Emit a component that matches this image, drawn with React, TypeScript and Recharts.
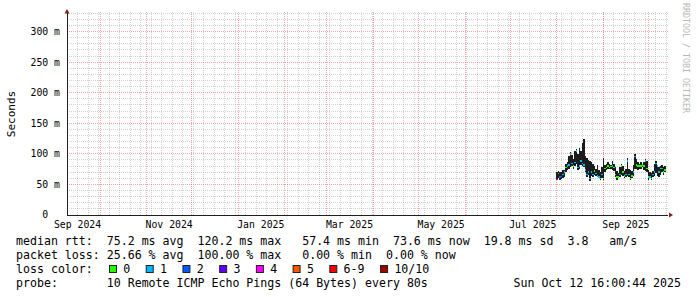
import {
  ComposedChart,
  Bar,
  Scatter,
  XAxis,
  YAxis,
  CartesianGrid,
  ReferenceDot,
} from 'recharts'

const DAY = 86400000

// one point per day, starting Aug 1 2025
const firstDay = Date.UTC(2025, 7, 1)
const smokeLow = [
  58, 60, 58, 59, 60, 62, 70, 74, 76, 78, 80, 76, 80, 84, 74, 76, 82, 80, 78, 70,
  62, 66, 56, 64, 62, 66, 64, 62, 60, 57, 60, 58, 70, 74, 76, 75, 76, 74, 72, 62,
  58, 60, 62, 66, 64, 60, 62, 63, 62, 58, 60, 64, 76, 76, 74, 76, 76, 78, 74, 72,
  70, 58, 60, 58, 62, 64, 68, 64, 62, 66, 70, 66, 70,
]
const smokeHigh = [
  70, 72, 70, 71, 73, 74, 84, 86, 96, 103, 98, 92, 104, 108, 100, 110, 104, 118, 124, 96,
  94, 90, 88, 86, 84, 80, 76, 82, 74, 70, 78, 94, 82, 84, 86, 83, 82, 88, 84, 78,
  72, 68, 78, 84, 80, 72, 76, 93, 76, 74, 72, 82, 99, 92, 86, 84, 86, 84, 86, 92,
  88, 74, 70, 68, 72, 84, 88, 82, 78, 80, 82, 78, 80,
]
const median = [
  58, 68, 62, 63, 66, 70, 78, 80, 82, 100, 84, 80, 86, 105, 78, 80, 88, 84, 82, 74,
  66, 70, 60, 70, 66, 72, 68, 64, 62, 60, 66, 60, 76, 78, 80, 78, 79, 80, 78, 66,
  62, 62, 66, 80, 70, 64, 66, 88, 66, 60, 64, 70, 96, 82, 80, 80, 80, 82, 80, 88,
  76, 62, 62, 60, 66, 70, 84, 80, 70, 76, 76, 70, 74,
]
const lostPings = [
  6, 0, 2, 2, 1, 1, 0, 1, 1, 1, 1, 0, 1, 1, 1, 1, 1, 1, 1, 1,
  1, 1, 1, 1, 1, 0, 1, 1, 1, 0, 1, 0, 0, 0, 0, 0, 0, 1, 0, 0,
  0, 0, 1, 0, 0, 0, 1, 1, 1, 0, 0, 1, 1, 0, 0, 0, 0, 0, 0, 1,
  0, 0, 1, 0, 1, 1, 1, 1, 1, 0, 1, 0, 0,
]

const lossLabels = ['0', '1', '2', '3', '4', '5', '6-9', '10/10']
const lossColors = ['#26ff00', '#00b8ff', '#0059ff', '#5e00ff', '#ff00ff', '#ff5500', '#ff0000', '#a10000']

const monthNames = ['Jan', 'Feb', 'Mar', 'Apr', 'May', 'Jun', 'Jul', 'Aug', 'Sep', 'Oct', 'Nov', 'Dec']
// month labels sit in the middle of their month
const labelMonths = [
  [2024, 8], [2024, 10], [2025, 0], [2025, 2], [2025, 4], [2025, 6], [2025, 8],
]
const yTicks = [0, 50, 100, 150, 200, 250, 300]

const legendRows = [
  'median rtt:  75.2 ms avg  120.2 ms max   57.4 ms min  73.6 ms now  19.8 ms sd  3.8   am/s',
  'packet loss: 25.66 % avg  100.00 % max   0.00 % min  0.00 % now',
]
const probeText = 'probe:       10 Remote ICMP Echo Pings (64 Bytes) every 80s'
const stampText = 'Sun Oct 12 16:00:44 2025'

const W = 697
const H = 297
const PLOT_LEFT = 67
const PLOT_RIGHT = 668
const PLOT_TOP = 12
const PLOT_BOTTOM = 215
const X_AXIS_H = 20
const Y_MAX = 332
const CHAR_W = 7.02
const MONO = '"DejaVu Sans Mono", monospace'

const axisStart = Date.UTC(2024, 8, 9)
const axisEnd = axisStart + 400 * DAY

const lossIndex = (n: number) => (n >= 10 ? 7 : n >= 6 ? 6 : n)

const rows = median.map((m, i) => ({
  t: firstDay + i * DAY,
  low: smokeLow[i],
  high: smokeHigh[i],
  median: m,
  loss: lostPings[i],
}))

const labelTicks = labelMonths.map(([y, m]) => Date.UTC(y, m, 16))

// grid: weekly minor / monthly major, 10 ms minor / 50 ms major
const majorX: number[] = []
for (let y = 2024, m = 9; y < 2025 || m <= 9; m++) {
  if (m > 11) { m = 0; y++ }
  majorX.push(Date.UTC(y, m, 1))
}
const minorX: number[] = []
for (let t = axisStart + 7 * DAY; t < axisEnd; t += 7 * DAY) minorX.push(t)
const majorY = [50, 100, 150, 200, 250, 300]
const minorY: number[] = []
for (let v = 10; v <= 330; v += 10) if (v % 50 !== 0) minorY.push(v)

const XTick = (p: any) => {
  const d = new Date(p.payload.value)
  return (
    <text x={p.x} y={PLOT_BOTTOM + 12.5} textAnchor="middle" fontFamily={MONO} fontSize={9.8} fill="#000">
      {`${monthNames[d.getUTCMonth()]} ${d.getUTCFullYear()}`}
    </text>
  )
}

const YTick = (p: any) => {
  const v = p.payload.value
  return (
    <text x={PLOT_LEFT - 7} y={p.y + 3.4} textAnchor="end" fontFamily={MONO} fontSize={9.8} fill="#000">
      {v === 0 ? '0\u00a0\u00a0' : `${v} m`}
    </text>
  )
}

const MedianMark = (p: any) => {
  if (p.cx == null || p.cy == null) return null
  const c = lossColors[lossIndex(p.payload.loss)]
  return <rect x={p.cx - 0.75} y={p.cy - 0.75} width={1.5} height={1.5} fill={c} shapeRendering="crispEdges" />
}

const UpArrow = (p: any) => (
  <polygon points={`${p.cx - 2.5},${p.cy + 1.5} ${p.cx + 2.5},${p.cy + 1.5} ${p.cx},${p.cy - 3}`} fill="#7f1f1f" />
)
const RightArrow = (p: any) => (
  <polygon points={`${p.cx + 1},${p.cy - 2.5} ${p.cx + 1},${p.cy + 2.5} ${p.cx + 5},${p.cy}`} fill="#7f1f1f" />
)

export default function App() {
  // legend swatches laid out like rrdtool: box, label, gap
  let bx = 109
  const swatches = lossLabels.map((label, i) => {
    const item = { x: bx, label, color: lossColors[i] }
    bx = bx + 14.3 + label.length * CHAR_W + 15.4
    return item
  })

  return (
    <div style={{ position: 'absolute', left: 0, top: 0, width: W, height: H, background: '#fff' }}>
      <style>{`
        .recharts-cartesian-grid line,
        .recharts-cartesian-axis-line,
        .recharts-bar-rectangle path { shape-rendering: crispEdges; }
      `}</style>
      <ComposedChart
        width={W}
        height={H}
        data={rows}
        margin={{ top: PLOT_TOP, right: W - PLOT_RIGHT, bottom: H - PLOT_BOTTOM - X_AXIS_H, left: 0 }}
      >
        <CartesianGrid
          horizontalValues={minorY}
          verticalValues={minorX}
          stroke="rgba(143,143,143,0.4)"
          strokeDasharray="1 1"
        />
        <CartesianGrid
          horizontalValues={majorY}
          verticalValues={majorX}
          stroke="rgba(222,80,80,0.5)"
          strokeDasharray="1 1"
        />
        <XAxis
          type="number"
          dataKey="t"
          domain={[axisStart, axisEnd]}
          allowDataOverflow
          ticks={labelTicks}
          interval={0}
          tick={XTick}
          tickLine={false}
          axisLine={{ stroke: '#1f1f1f' }}
          height={X_AXIS_H}
        />
        <YAxis
          type="number"
          domain={[0, Y_MAX]}
          allowDataOverflow
          ticks={yTicks}
          interval={0}
          tick={YTick}
          tickLine={false}
          axisLine={{ stroke: '#1f1f1f' }}
          width={PLOT_LEFT}
        />
        <Bar dataKey={(d: any) => [d.low, d.high]} fill="#1c1c1c" barSize={1.5} isAnimationActive={false} />
        <Scatter dataKey="median" shape={MedianMark} isAnimationActive={false} />
        <ReferenceDot x={axisStart} y={Y_MAX} r={0} ifOverflow="visible" shape={UpArrow} />
        <ReferenceDot x={axisEnd} y={0} r={0} ifOverflow="visible" shape={RightArrow} />
      </ComposedChart>

      <svg width={W} height={H} style={{ position: 'absolute', left: 0, top: 0, pointerEvents: 'none' }}>
        <text
          transform="translate(15,114) rotate(-90)"
          textAnchor="middle"
          fontFamily={MONO}
          fontSize={11}
          fill="#000"
        >
          Seconds
        </text>
        <text
          transform="translate(683,3) rotate(90)"
          fontFamily={MONO}
          fontSize={8.3}
          fill="#b8b8b8"
        >
          RRDTOOL / TOBI OETIKER
        </text>
        <g fontFamily={MONO} fontSize={11.6} fill="#000" style={{ whiteSpace: 'pre' }}>
          {legendRows.map((r, i) => (
            <text key={i} x={16} y={245 + i * 14} xmlSpace="preserve">
              {r}
            </text>
          ))}
          <text x={16} y={273}>loss color:</text>
          {swatches.map((s) => (
            <g key={s.label}>
              <rect x={s.x + 0.5} y={265.5} width={7} height={7} fill={s.color} stroke="#222" strokeWidth={1} />
              <text x={s.x + 14.3} y={273}>{s.label}</text>
            </g>
          ))}
          <text x={16} y={287} xmlSpace="preserve">{probeText}</text>
          <text x={681} y={287} textAnchor="end">{stampText}</text>
        </g>
      </svg>
    </div>
  )
}
